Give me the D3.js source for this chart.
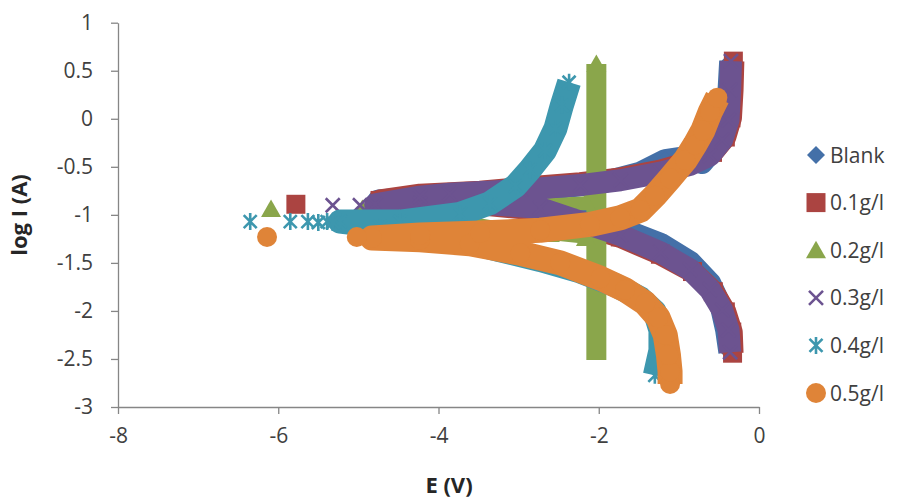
<!DOCTYPE html>
<html><head><meta charset="utf-8">
<script src="https://cdn.jsdelivr.net/npm/d3@7"></script>
<style>body{margin:0;background:#fff}svg{display:block}</style>
</head><body>
<svg id="c" width="903" height="500"></svg>
<script>
// ---- data ----
const xTicks = [-8, -6, -4, -2, 0];
const yTicks = [1, 0.5, 0, -0.5, -1, -1.5, -2, -2.5, -3];
const seriesNames = ["Blank", "0.1g/l", "0.2g/l", "0.3g/l", "0.4g/l", "0.5g/l"];

const blankSparse = [[-4.82,-0.85]];
const blankDense = [[-0.37,-2.43],[-0.41,-2.20],[-0.48,-1.94],[-0.61,-1.71],[-0.86,-1.49],[-1.23,-1.30],[-1.73,-1.14],[-2.23,-1.00],[-2.73,-0.91],[-3.48,-0.87],[-4.23,-0.86],[-4.75,-0.85],[-4.23,-0.82],[-3.48,-0.79],[-2.73,-0.74],[-1.98,-0.67],[-1.48,-0.56],[-1.17,-0.43],[-0.92,-0.40],[-0.71,-0.46],[-0.55,-0.30],[-0.43,-0.06],[-0.38,0.30],[-0.36,0.60]];

const red01Sparse = [[-5.78,-0.89]];
const red01Dense = [[-0.33,-2.44],[-0.34,-2.22],[-0.42,-2.01],[-0.57,-1.80],[-0.83,-1.59],[-1.23,-1.41],[-1.73,-1.23],[-2.23,-1.10],[-2.73,-0.95],[-3.48,-0.89],[-4.23,-0.87],[-4.73,-0.85],[-4.23,-0.79],[-3.48,-0.76],[-2.98,-0.72],[-2.23,-0.67],[-1.73,-0.62],[-1.23,-0.54],[-0.86,-0.45],[-0.58,-0.35],[-0.42,-0.19],[-0.35,0.01],[-0.33,0.30],[-0.32,0.60]];

const green02Sparse = [[-6.09,-0.94],[-4.95,-0.94]];
const green02Dense = [[-2.16,-1.24],[-2.61,-1.20],[-3.11,-1.15],[-3.48,-1.10],[-3.98,-1.03],[-4.48,-0.98],[-4.79,-0.96],[-4.23,-0.94],[-3.48,-0.92],[-2.86,-0.90],[-2.16,-0.87]];
const green02Column = [[-2.03,-2.51],[-2.03,0.57]];

const purple03Sparse = [[-5.32,-0.90],[-4.98,-0.90]];
const purple03Dense = [[-0.36,-2.43],[-0.38,-2.20],[-0.46,-1.99],[-0.61,-1.78],[-0.86,-1.57],[-1.23,-1.39],[-1.73,-1.21],[-2.23,-1.07],[-2.73,-0.93],[-3.48,-0.88],[-4.23,-0.88],[-4.79,-0.89],[-4.23,-0.81],[-3.86,-0.78],[-2.98,-0.74],[-2.23,-0.69],[-1.73,-0.64],[-1.23,-0.56],[-0.86,-0.48],[-0.61,-0.38],[-0.46,-0.22],[-0.38,-0.01],[-0.36,0.30],[-0.35,0.60]];

const cyan04Sparse = [[-6.35,-1.07],[-5.85,-1.07],[-5.63,-1.07],[-5.50,-1.08],[-5.39,-1.07],[-5.32,-1.08]];
const cyan04Dense = [[-1.30,-2.67],[-1.23,-2.41],[-1.23,-2.20],[-1.30,-2.01],[-1.48,-1.87],[-1.80,-1.73],[-2.23,-1.59],[-2.73,-1.47],[-3.23,-1.37],[-3.73,-1.26],[-4.23,-1.18],[-4.73,-1.12],[-5.23,-1.07],[-4.48,-1.07],[-3.73,-0.99],[-3.36,-0.88],[-3.04,-0.70],[-2.86,-0.53],[-2.67,-0.33],[-2.54,-0.10],[-2.46,0.14],[-2.37,0.38]];

const orange05Sparse = [[-6.14,-1.23],[-5.02,-1.23]];
const orange05Dense = [[-1.11,-2.76],[-1.11,-2.63],[-1.13,-2.46],[-1.17,-2.25],[-1.26,-2.07],[-1.42,-1.92],[-1.67,-1.78],[-1.98,-1.66],[-2.48,-1.50],[-2.98,-1.40],[-3.61,-1.30],[-4.23,-1.26],[-4.83,-1.24],[-4.23,-1.21],[-3.48,-1.19],[-2.73,-1.16],[-2.11,-1.10],[-1.73,-1.03],[-1.48,-0.95],[-1.30,-0.80],[-1.11,-0.62],[-0.92,-0.43],[-0.80,-0.27],[-0.70,-0.12],[-0.61,0.07],[-0.52,0.22]];

// ---- styles ----
const styles = [
  {marker:"diamond", color:"#4470a8", band:22},
  {marker:"square", color:"#ab4441", band:22},
  {marker:"triangle", color:"#8aa64b", band:12, colBand:20},
  {marker:"x", color:"#6c5390", band:22},
  {marker:"star", color:"#3d97ae", band:24},
  {marker:"circle", color:"#df8438", band:25}
];
const seriesData = [
  {sparse: blankSparse, dense: blankDense},
  {sparse: red01Sparse, dense: red01Dense},
  {sparse: green02Sparse, dense: green02Dense, column: green02Column},
  {sparse: purple03Sparse, dense: purple03Dense},
  {sparse: cyan04Sparse, dense: cyan04Dense},
  {sparse: orange05Sparse, dense: orange05Dense}
];

const svg = d3.select("#c");
const x = d3.scaleLinear().domain([-8, 0]).range([118, 759]);
const y = d3.scaleLinear().domain([-3, 1]).range([407, 22.7]);
const FONT = "'Open Sans', sans-serif";
const AX = "#868686";

function markerPath(type) {
  switch (type) {
    case "diamond": return "M0,-9L9,0L0,9L-9,0Z";
    case "square": return "M-9.5,-9.5H9.5V9.5H-9.5Z";
    case "triangle": return "M0,-9.5L10,8L-10,8Z";
    case "x": return "M-7,-7L7,7M7,-7L-7,7";
    case "star": return "M-6.5,-6.5L6.5,6.5M6.5,-6.5L-6.5,6.5M0,-8.5V8.5";
    case "circle": return "M10,0A10,10 0 1,1 -10,0A10,10 0 1,1 10,0Z";
  }
}
function drawMarker(g, type, color, px, py, scale) {
  const stroked = (type === "x" || type === "star");
  g.append("path").attr("d", markerPath(type))
    .attr("transform", `translate(${px},${py})` + (scale ? ` scale(${scale})` : ""))
    .attr("fill", stroked ? "none" : color)
    .attr("stroke", stroked ? color : "none")
    .attr("stroke-width", stroked ? 2.6 : 0);
}

// axes
const gx = svg.append("g").attr("transform", "translate(0,407)")
  .call(d3.axisBottom(x).tickValues(xTicks).tickSize(7).tickSizeOuter(0).tickPadding(14).tickFormat(String));
const gy = svg.append("g").attr("transform", "translate(118,0)")
  .call(d3.axisLeft(y).tickValues(yTicks).tickSize(7).tickSizeOuter(0).tickPadding(18).tickFormat(String));
[gx, gy].forEach(g => {
  g.select(".domain").attr("stroke", AX).attr("stroke-width", 1.3);
  g.selectAll(".tick line").attr("stroke", AX).attr("stroke-width", 1.3);
  g.selectAll(".tick text").attr("fill", "#404040").style("font-family", FONT).style("font-size", "21px");
});

// plot
const line = d3.line().x(d => x(d[0])).y(d => y(d[1]));
const plot = svg.append("g");
seriesData.forEach((s, i) => {
  const st = styles[i];
  const g = plot.append("g");
  if (s.column) {
    g.append("path").attr("d", line(s.column)).attr("fill", "none")
      .attr("stroke", st.color).attr("stroke-width", st.colBand).attr("stroke-linecap", "butt");
    const top = s.column[s.column.length - 1];
    drawMarker(g, st.marker, st.color, x(top[0]), y(top[1]));
  }
  g.append("path").attr("d", line(s.dense)).attr("fill", "none")
    .attr("stroke", st.color).attr("stroke-width", st.band)
    .attr("stroke-linejoin", "round").attr("stroke-linecap", "butt");
  s.dense.forEach(d => drawMarker(g, st.marker, st.color, x(d[0]), y(d[1])));
  s.sparse.forEach(d => drawMarker(g, st.marker, st.color, x(d[0]), y(d[1])));
});

// axis titles
svg.append("text").attr("x", 449).attr("y", 493).attr("text-anchor", "middle")
  .style("font-family", FONT).style("font-weight", "bold").style("font-size", "22px").attr("fill", "#262626")
  .text("E (V)");
svg.append("text").attr("transform", "translate(27,215) rotate(-90)").attr("text-anchor", "middle")
  .style("font-family", FONT).style("font-weight", "bold").style("font-size", "22px").attr("fill", "#262626")
  .text("log I (A)");

// legend
const leg = svg.append("g");
seriesNames.forEach((n, i) => {
  const ly = 155 + i * 47.6;
  drawMarker(leg, styles[i].marker, styles[i].color, 816, ly);
  leg.append("text").attr("x", 830).attr("y", ly + 7.5)
    .style("font-family", FONT).style("font-size", "21px").attr("fill", "#404040").text(n);
});
</script>
</body></html>
